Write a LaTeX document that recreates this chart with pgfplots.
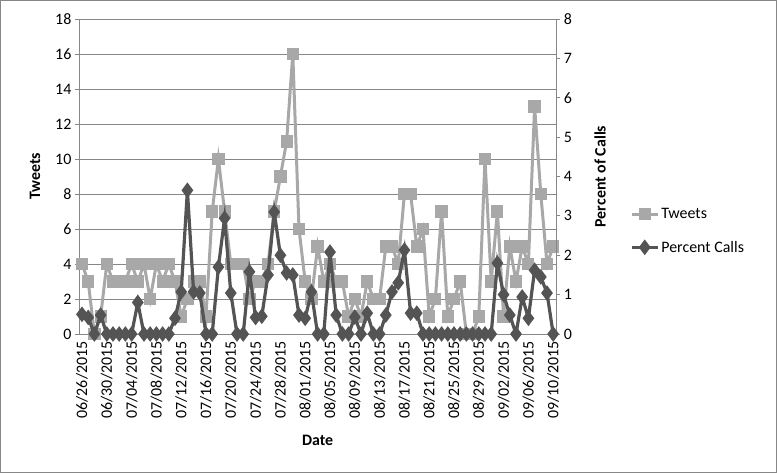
\documentclass[border=0pt]{standalone}
\usepackage{fontspec}
\setmainfont{Carlito}
\usepackage{pgfplots}
\pgfplotsset{compat=1.18}
\definecolor{tweetgray}{HTML}{A8A8A8}
\definecolor{callgray}{HTML}{545454}
\definecolor{axisgray}{HTML}{878787}

% day index, tweets, percent of calls
\pgfplotstableread{
idx tw pc
0 4 0.50
1 3 0.42
2 0 0
3 1 0.48
4 4 0
5 3 0
6 3 0
7 3 0
8 4 0
9 3 0.80
10 4 0
11 2 0
12 4 0
13 3 0
14 4 0
15 3 0.40
16 1 1.07
17 2 3.65
18 3 1.07
19 3 1.04
20 1 0
21 7 0
22 10 1.70
23 7 2.94
24 4 1.04
25 4 0
26 4 0
27 2 1.58
28 3 0.42
29 3 0.45
30 4 1.50
31 7 3.10
32 9 2.00
33 11 1.55
34 16 1.50
35 6 0.48
36 3 0.40
37 2 1.07
38 5 0
39 3 0
40 4 2.08
41 3 0.48
42 3 0
43 1 0
44 2 0.43
45 1 0
46 3 0.53
47 2 0
48 2 0
49 5 0.48
50 5 1.07
51 4 1.30
52 8 2.13
53 8 0.53
54 5 0.53
55 6 0
56 1 0
57 2 0
58 7 0
59 1 0
60 2 0
61 3 0
62 0 0
63 0 0
64 1 0
65 10 0
66 3 0
67 7 1.80
68 1 1.00
69 5 0.48
70 3 0
71 5 0.94
72 4 0.40
73 13 1.62
74 8 1.45
75 4 1.04
76 5 0
}\calls

\pgfplotsset{
  base/.style={
    scale only axis, width=477.4bp, height=315bp,
    at={(78.9bp,139bp)}, anchor=south west,
    xmin=-0.5, xmax=76.5, ymin=0, clip=false,
    tick align=outside, major tick length=4bp, minor tick length=4bp,
    tick style={axisgray, line width=0.8bp},
    axis line style={axisgray, line width=0.8bp},
    tick label style={font=\fontsize{16}{18}\selectfont},
    label style={font=\fontsize{16}{18}\selectfont\bfseries},
    /pgf/number format/assume math mode=true,
  },
  twstyle/.style={tweetgray, line width=3bp, mark=square*, mark size=4.6bp,
    mark options={solid}},
  pcstyle/.style={callgray, line width=3.2bp, mark=diamond*, mark size=5.2bp,
    mark options={solid}},
}

\begin{document}
\begin{tikzpicture}
\useasboundingbox (0,0) rectangle (777bp,473bp);
\draw[axisgray, line width=1bp] (0.5bp,0.5bp) rectangle (776.5bp,472.5bp);

\begin{axis}[base,
  ymax=18, ytick={0,2,...,18},
  axis y line*=left, axis x line*=bottom,
  ymajorgrids, grid style={axisgray, line width=0.8bp},
  xtick={0,4,...,76},
  xticklabels={06/26/2015,06/30/2015,07/04/2015,07/08/2015,07/12/2015,
    07/16/2015,07/20/2015,07/24/2015,07/28/2015,08/01/2015,08/05/2015,
    08/09/2015,08/13/2015,08/17/2015,08/21/2015,08/25/2015,08/29/2015,
    09/02/2015,09/06/2015,09/10/2015},
  x tick label style={rotate=90, anchor=east},
  xtick style={draw=none},
  minor xtick={-0.5,0.5,...,76.5},
  xlabel={Date}, ylabel={Tweets},
  xlabel style={at={(axis description cs:0.5,-0.337)}, anchor=center},
  ylabel style={at={(axis description cs:-0.092,0.5)}, anchor=center},
]
\addplot[twstyle] table[x=idx, y=tw] {\calls};
\end{axis}

\begin{axis}[base,
  ymax=8, ytick={0,1,...,8},
  axis y line*=right, axis x line=none,
  ylabel={Percent of Calls},
  ylabel style={at={(axis description cs:1.0915,0.5)}, anchor=center},
  legend style={at={(axis description cs:1.148,0.327)}, anchor=west,
    draw=none, fill=none, font=\fontsize{16}{18}\selectfont,
    row sep=17bp, cells={anchor=west}},
  legend image code/.code={\draw[mark repeat=2, mark phase=2]
    plot coordinates {(0bp,0bp) (13bp,0bp) (26bp,0bp)};},
]
\addlegendimage{twstyle}
\addlegendentry{Tweets}
\addplot[pcstyle] table[x=idx, y=pc] {\calls};
\addlegendentry{Percent Calls}
\end{axis}
\end{tikzpicture}
\end{document}
